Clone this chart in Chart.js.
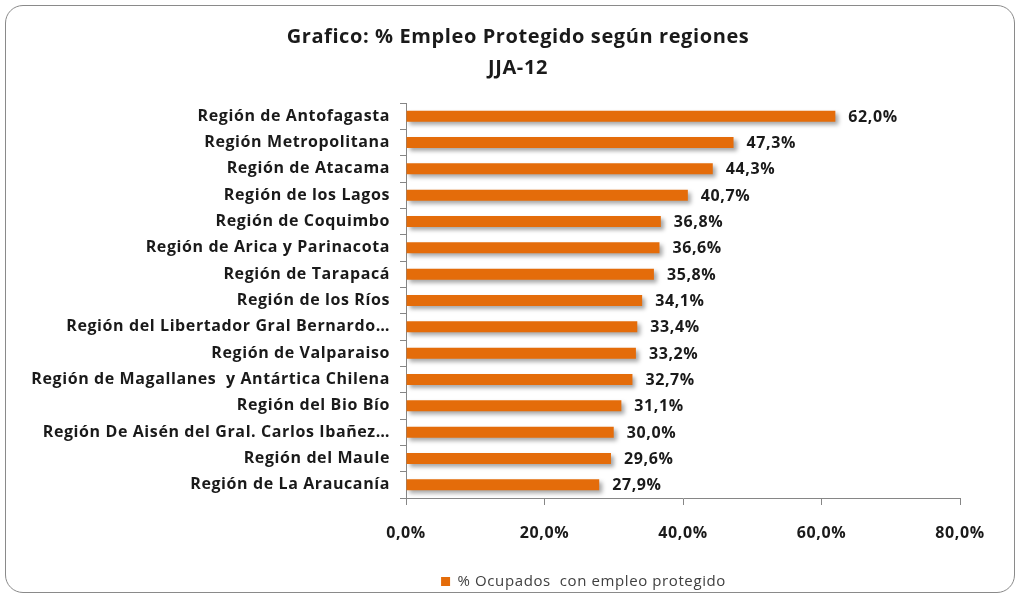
<!DOCTYPE html>
<html>
<head>
<meta charset="utf-8">
<script src="https://cdn.jsdelivr.net/npm/chart.js@4/dist/chart.umd.min.js"></script>
<style>
  html, body { margin: 0; padding: 0; background: #fff; }
  #wrap { position: relative; width: 1022px; height: 599px; }
  #frame {
    position: absolute; left: 5px; top: 5px; width: 1010px; height: 588px;
    border: 1.5px solid #8a8a8a; border-radius: 18px; box-sizing: border-box;
  }
  #chart { position: absolute; left: 0; top: 0; }
</style>
</head>
<body>
<div id="wrap">
  <div id="frame"></div>
  <canvas id="chart" width="1022" height="599"></canvas>
</div>
<script>
// Datos del gráfico
const titulo = ['Grafico: % Empleo Protegido según regiones', 'JJA-12'];
const regiones = [
    'Región de Antofagasta',
    'Región Metropolitana',
    'Región de Atacama',
    'Región de los Lagos',
    'Región de Coquimbo',
    'Región de Arica y Parinacota',
    'Región de Tarapacá',
    'Región de los Ríos',
    'Región del Libertador Gral Bernardo…',
    'Región de Valparaiso',
    'Región de Magallanes  y Antártica Chilena',
    'Región del Bio Bío',
    'Región De Aisén del Gral. Carlos Ibañez…',
    'Región del Maule',
    'Región de La Araucanía'
];
const empleoProtegido = [62.0, 47.3, 44.3, 40.7, 36.8, 36.6, 35.8, 34.1, 33.4, 33.2, 32.7, 31.1, 30.0, 29.6, 27.9];
const xTicks = [0, 20, 40, 60, 80];

const fontFamily = '"Open Sans", Lato, sans-serif';
const naranja = '#E46C0A';

function fmt(v) {
    return v.toFixed(1).replace('.', ',') + '%';
}

// espaciado de letras (el canvas se reinicia al redimensionar)
const spacing = {
    id: 'spacing',
    beforeUpdate(chart) { chart.ctx.letterSpacing = '0.6px'; },
    beforeDraw(chart) { chart.ctx.letterSpacing = '0.6px'; }
};

// titulo (dos lineas, centrado como en el original)
const tituloPlugin = {
    id: 'tituloPlugin',
    afterDraw(chart) {
        const c = chart.ctx;
        c.save();
        c.font = 'bold 20px ' + fontFamily;
        c.fillStyle = '#1a1a1a';
        c.textAlign = 'center';
        c.textBaseline = 'middle';
        c.fillText(titulo[0], 518, 37);
        c.fillText(titulo[1], 518, 68);
        c.restore();
    }
};

// mover la leyenda hacia la derecha, como en el original
const legendShift = {
    id: 'legendShift',
    afterLayout(chart) {
        chart.legend.left = 207;
    }
};

// sombra de las barras
const barShadow = {
    id: 'barShadow',
    beforeDatasetDraw(chart) {
        const c = chart.ctx;
        c.save();
        c.shadowColor = 'rgba(0,0,0,0.35)';
        c.shadowBlur = 4;
        c.shadowOffsetX = 3;
        c.shadowOffsetY = 3;
    },
    afterDatasetDraw(chart) {
        chart.ctx.restore();
    }
};

// etiquetas de valor al final de cada barra
const valueLabels = {
    id: 'valueLabels',
    afterDatasetsDraw(chart) {
        const c = chart.ctx;
        const meta = chart.getDatasetMeta(0);
        c.save();
        c.font = 'bold 16px ' + fontFamily;
        c.fillStyle = '#1a1a1a';
        c.textAlign = 'left';
        c.textBaseline = 'middle';
        meta.data.forEach(function(bar, i) {
            c.fillText(fmt(empleoProtegido[i]), bar.x + 13, bar.y + 1);
        });
        c.restore();
    }
};

const ctx = document.getElementById('chart').getContext('2d');
new Chart(ctx, {
    type: 'bar',
    data: {
        labels: regiones,
        datasets: [{
            label: '% Ocupados  con empleo protegido',
            data: empleoProtegido,
            backgroundColor: naranja,
            borderWidth: 0,
            categoryPercentage: 1.0,
            barPercentage: 0.42
        }]
    },
    options: {
        indexAxis: 'y',
        responsive: false,
        animation: false,
        layout: { padding: { left: 0, right: 62, top: 103, bottom: 0 } },
        scales: {
            x: {
                min: 0,
                max: 80,
                afterBuildTicks: function(scale) {
                    scale.ticks = xTicks.map(function(v) { return { value: v }; });
                },
                afterFit: function(scale) { scale.height = 66; },
                border: { display: true, color: '#868686', width: 1 },
                grid: { display: true, drawOnChartArea: false, drawTicks: true, tickLength: 7, color: '#868686' },
                ticks: {
                    color: '#1a1a1a',
                    padding: 19,
                    font: { family: fontFamily, size: 16, weight: 'bold' },
                    callback: function(v) { return fmt(v); }
                }
            },
            y: {
                afterFit: function(scale) { scale.width = 406; },
                border: { display: true, color: '#868686', width: 1 },
                grid: { display: true, drawOnChartArea: false, drawTicks: true, tickLength: 6, color: '#868686', offset: true },
                ticks: {
                    color: '#1a1a1a',
                    padding: 10,
                    font: { family: fontFamily, size: 16, weight: 'bold' }
                }
            }
        },
        plugins: {
            title: { display: false },
            legend: {
                display: true,
                position: 'bottom',
                labels: {
                    color: '#404040',
                    boxWidth: 9,
                    boxHeight: 9,
                    padding: 10,
                    font: { family: fontFamily, size: 15 }
                }
            },
            tooltip: { enabled: false }
        }
    },
    plugins: [spacing, barShadow, valueLabels, tituloPlugin, legendShift]
});
</script>
</body>
</html>
